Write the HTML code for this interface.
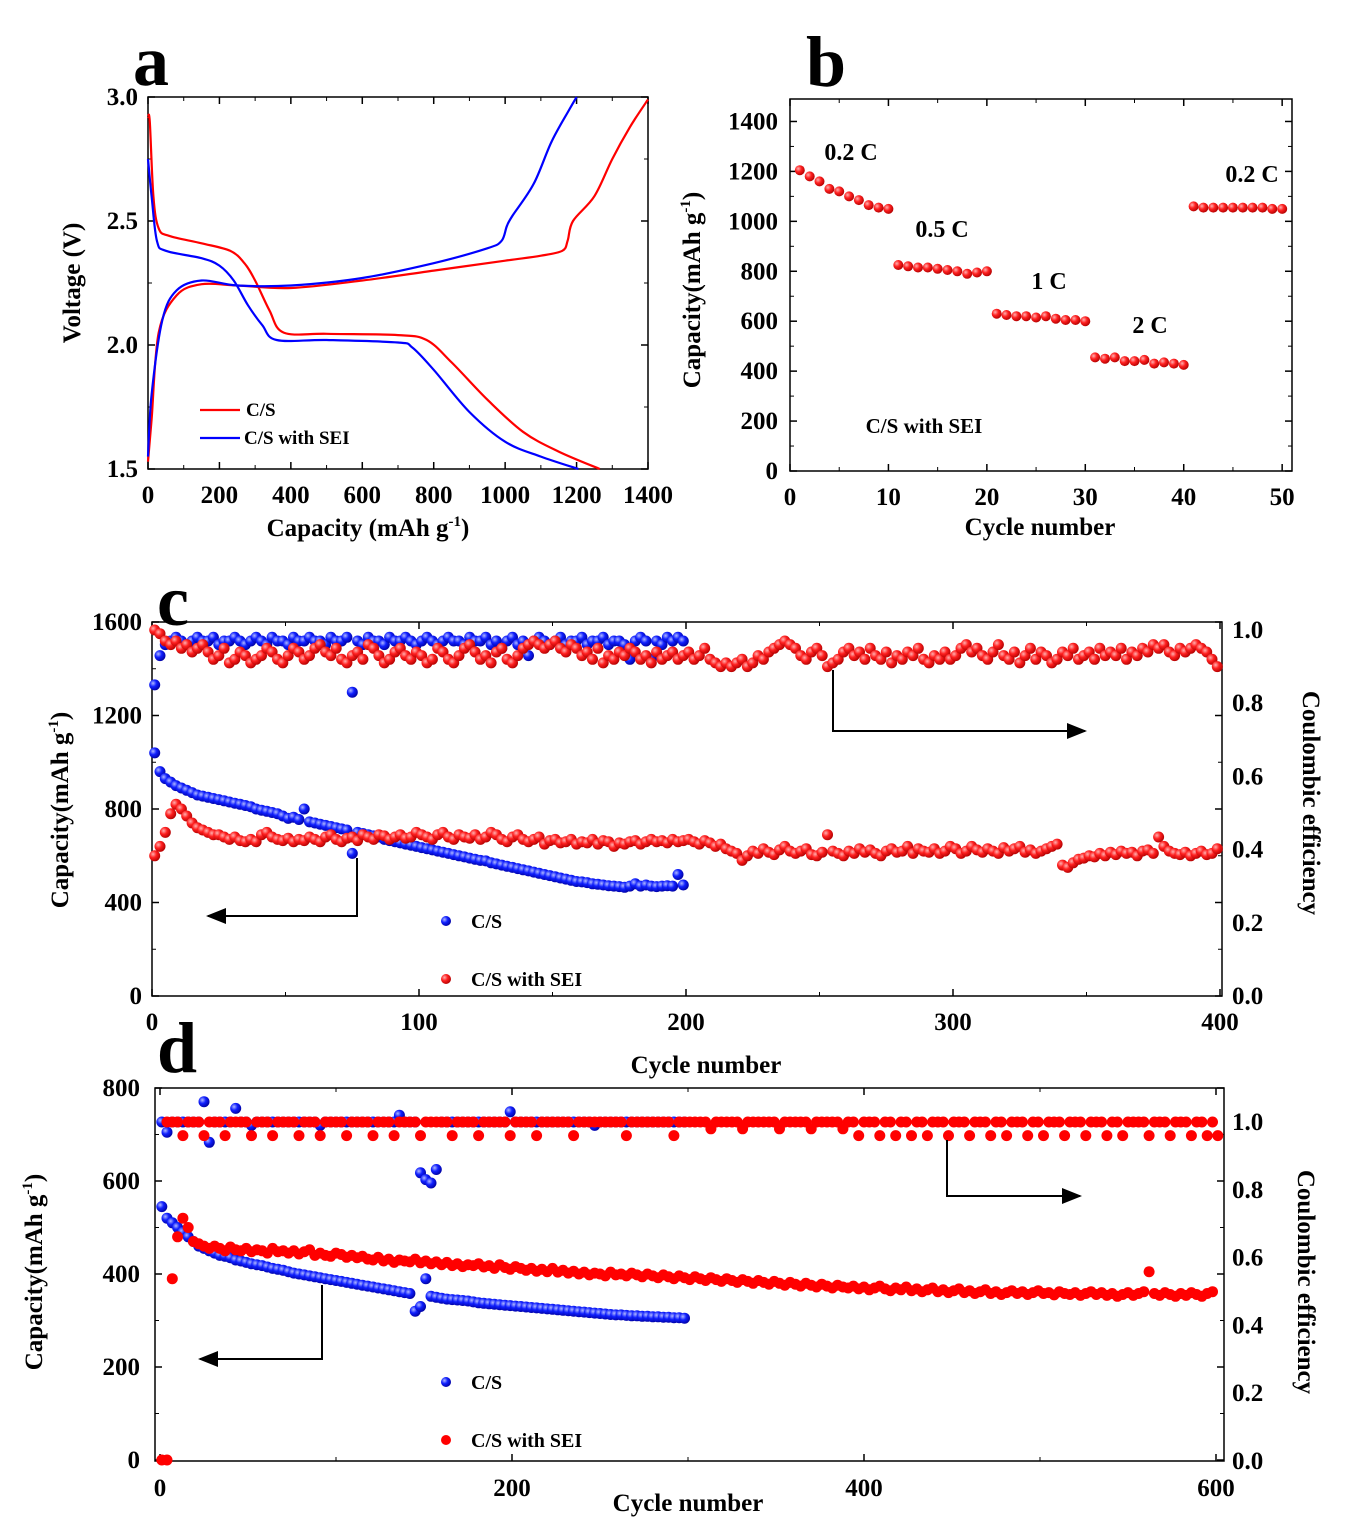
<!DOCTYPE html>
<html><head><meta charset="utf-8"><style>
html,body{margin:0;padding:0;background:#fff;}
svg{display:block;font-family:"Liberation Serif",serif;font-weight:bold;}
</style></head><body>
<svg id="fig" width="1345" height="1534" viewBox="0 0 1345 1534" xmlns="http://www.w3.org/2000/svg">
<defs>
<radialGradient id="gr" cx="0.35" cy="0.35" r="0.7"><stop offset="0" stop-color="#ffb0b0"/><stop offset="0.45" stop-color="#ff2020"/><stop offset="1" stop-color="#b00000"/></radialGradient>
<radialGradient id="gb" cx="0.35" cy="0.35" r="0.7"><stop offset="0" stop-color="#b0b8ff"/><stop offset="0.45" stop-color="#1020ff"/><stop offset="1" stop-color="#0000a0"/></radialGradient>
<marker id="ah" markerWidth="10" markerHeight="8" refX="9" refY="4" orient="auto"><path d="M0,0 L10,4 L0,8 Z" fill="#000"/></marker>
</defs>
<g id="root"></g>
</svg>
<script>
// ---------- Panel a data ----------
const aRedDisX=[0,5,15,30,60,150,230,270,300,340,380,500,700,780,850,950,1050,1150,1265];
const aRedDisY=[2.92,2.9,2.6,2.47,2.44,2.41,2.38,2.33,2.26,2.14,2.05,2.045,2.04,2.02,1.93,1.78,1.65,1.57,1.5];
const aRedChX=[0,10,30,80,150,250,400,600,800,1000,1100,1160,1175,1190,1250,1300,1350,1400];
const aRedChY=[1.53,1.7,2.05,2.2,2.245,2.24,2.23,2.26,2.3,2.34,2.36,2.38,2.42,2.5,2.6,2.75,2.88,2.99];
const aBlueDisX=[0,10,25,50,150,200,240,280,320,360,500,700,740,800,900,1000,1100,1205];
const aBlueDisY=[2.75,2.6,2.42,2.38,2.35,2.32,2.26,2.16,2.08,2.02,2.02,2.01,1.99,1.9,1.73,1.61,1.55,1.5];
const aBlueChX=[0,10,40,80,150,250,400,600,800,950,990,1005,1020,1080,1130,1180,1200];
const aBlueChY=[1.55,1.8,2.1,2.22,2.26,2.24,2.24,2.27,2.33,2.39,2.42,2.48,2.52,2.65,2.82,2.95,3.0];
const aXTicks=[0,200,400,600,800,1000,1200,1400];
const aYTicks=[1.5,2.0,2.5,3.0];
// ---------- Panel b data ----------
const bCap=[1205,1180,1160,1130,1120,1100,1085,1065,1055,1050,825,820,815,815,810,805,800,790,795,800,630,625,620,620,615,620,610,605,605,600,455,450,455,440,440,445,430,435,430,425,1060,1055,1055,1055,1055,1055,1055,1055,1050,1050];
const bXTicks=[0,10,20,30,40,50];
const bYTicks=[0,200,400,600,800,1000,1200,1400];
// ---------- Panel c data (every 2 cycles) ----------
const cSEICap=[600,640,700,780,820,800,770,740,720,710,
700,690,690,680,670,680,665,660,670,660,
690,700,680,670,665,675,660,670,665,680,
670,660,680,690,670,660,675,680,665,690,
680,670,690,685,670,680,690,675,680,700,
690,680,670,690,700,680,670,690,680,675,
690,670,680,700,690,670,660,680,690,670,
660,670,680,650,665,670,655,660,670,650,
660,655,670,650,665,660,640,655,650,660,
665,650,660,670,660,665,655,670,660,665,
670,660,650,665,655,640,650,630,620,610,
580,600,620,610,630,615,605,625,640,620,
610,620,630,605,600,615,690,620,610,600,
620,610,630,615,625,610,600,620,630,615,
620,640,610,630,620,615,630,610,620,640,
630,610,620,640,625,615,630,620,610,635,
620,630,640,615,625,610,620,630,640,650,
560,550,570,585,590,600,595,610,600,615,
605,620,610,615,600,620,625,610,680,640,
620,610,605,615,600,610,620,605,610,630];
const cSEIEff=[1.0,0.99,0.97,0.96,0.97,0.95,0.96,0.94,0.95,0.96,
0.94,0.92,0.93,0.95,0.91,0.92,0.94,0.93,0.91,0.92,
0.93,0.95,0.94,0.92,0.91,0.93,0.95,0.94,0.92,0.93,
0.95,0.96,0.94,0.93,0.95,0.92,0.91,0.93,0.94,0.92,
0.96,0.95,0.93,0.91,0.92,0.94,0.95,0.93,0.92,0.94,
0.93,0.91,0.92,0.95,0.94,0.92,0.91,0.93,0.95,0.96,
0.94,0.92,0.93,0.91,0.94,0.95,0.92,0.91,0.93,0.95,
0.96,0.97,0.96,0.95,0.96,0.97,0.95,0.94,0.96,0.95,
0.93,0.94,0.92,0.95,0.91,0.93,0.92,0.94,0.93,0.95,
0.94,0.92,0.93,0.91,0.94,0.92,0.93,0.94,0.92,0.93,
0.94,0.92,0.93,0.95,0.92,0.91,0.90,0.91,0.90,0.91,
0.92,0.90,0.91,0.93,0.92,0.94,0.95,0.96,0.97,0.96,
0.95,0.93,0.92,0.94,0.95,0.93,0.90,0.91,0.92,0.94,
0.95,0.93,0.94,0.92,0.95,0.93,0.92,0.94,0.91,0.93,
0.92,0.94,0.93,0.95,0.92,0.91,0.93,0.92,0.94,0.92,
0.93,0.95,0.96,0.94,0.95,0.93,0.92,0.94,0.96,0.93,
0.92,0.94,0.91,0.93,0.95,0.92,0.94,0.93,0.91,0.92,
0.94,0.93,0.95,0.92,0.93,0.94,0.92,0.95,0.93,0.94,
0.93,0.95,0.92,0.94,0.93,0.95,0.94,0.96,0.95,0.96,
0.94,0.93,0.95,0.94,0.95,0.96,0.95,0.94,0.92,0.90];
const cCSCap=[1040,960,930,915,900,890,880,870,860,855,
850,845,840,835,830,825,820,815,810,800,
795,790,785,780,770,760,765,755,800,745,
740,735,730,725,720,715,710,610,700,695,
690,685,680,670,665,660,655,650,645,640,
635,630,625,620,615,610,605,600,595,590,
585,580,578,570,565,560,555,550,545,540,
535,530,525,520,515,510,505,500,495,490,
488,485,480,478,475,472,470,468,465,470,
480,470,475,470,468,470,472,470,520,475];
const cCSEff=[0.85,0.93,0.96,0.97,0.98,0.97,0.96,0.97,0.98,0.97,
0.97,0.98,0.96,0.97,0.97,0.98,0.97,0.96,0.97,0.98,
0.97,0.96,0.98,0.97,0.97,0.96,0.98,0.97,0.97,0.98,
0.97,0.97,0.96,0.98,0.97,0.97,0.98,0.83,0.97,0.96,
0.98,0.97,0.97,0.96,0.98,0.97,0.97,0.98,0.97,0.96,
0.97,0.98,0.97,0.96,0.97,0.98,0.97,0.97,0.96,0.98,
0.97,0.97,0.98,0.96,0.97,0.95,0.97,0.98,0.96,0.97,
0.93,0.97,0.98,0.97,0.96,0.97,0.98,0.96,0.97,0.97,
0.98,0.96,0.97,0.97,0.98,0.96,0.97,0.97,0.96,0.92,
0.97,0.98,0.97,0.92,0.97,0.96,0.98,0.97,0.98,0.97];
const cXTicks=[0,100,200,300,400];
const cYTicks=[0,400,800,1200,1600];
const cRTicks=[0,0.2,0.4,0.6,0.8,1.0];
// ---------- Panel d data (every 3 cycles) ----------
const dSEICap=[0,0,390,480,520,500,470,465,460,455,
460,455,450,458,452,450,455,448,452,450,
445,455,448,450,445,450,443,448,452,440,
445,440,438,445,442,436,440,435,438,432,
430,436,428,432,425,430,428,426,432,424,
428,422,426,420,425,418,422,416,420,418,
422,415,418,412,420,414,410,416,412,408,
412,406,410,405,412,404,408,402,406,400,
404,398,402,400,396,404,398,400,396,402,
398,394,400,396,392,398,394,390,396,392,
388,394,390,386,392,388,384,390,386,382,
388,384,380,386,382,378,384,380,376,382,
378,374,380,376,372,378,374,370,376,372,
370,374,368,372,366,370,374,368,364,370,
366,372,364,368,362,366,370,362,366,360,
364,368,360,364,358,362,366,358,362,356,
360,364,358,362,356,360,364,358,360,355,
362,358,356,360,354,358,362,356,360,354,
358,352,356,360,354,358,362,405,358,354,
360,356,352,358,354,360,356,352,358,362];
const dSEIEff=[1.0,1.0,1.0,0.96,1.0,1.0,1.0,0.96,1.0,1.0,
1.0,0.96,1.0,1.0,1.0,1.0,0.96,1.0,1.0,1.0,
0.96,1.0,1.0,1.0,1.0,0.96,1.0,1.0,1.0,0.96,
1.0,1.0,1.0,1.0,0.96,1.0,1.0,1.0,1.0,0.96,
1.0,1.0,1.0,0.96,1.0,1.0,1.0,1.0,0.96,1.0,
1.0,1.0,1.0,1.0,0.96,1.0,1.0,1.0,1.0,0.96,
1.0,1.0,1.0,1.0,1.0,0.96,1.0,1.0,1.0,1.0,
0.96,1.0,1.0,1.0,1.0,1.0,1.0,0.96,1.0,1.0,
1.0,1.0,1.0,1.0,1.0,1.0,1.0,0.96,1.0,1.0,
1.0,1.0,1.0,1.0,1.0,1.0,0.96,1.0,1.0,1.0,
1.0,1.0,1.0,0.98,1.0,1.0,1.0,1.0,1.0,0.98,
1.0,1.0,1.0,1.0,1.0,1.0,0.98,1.0,1.0,1.0,
1.0,1.0,0.98,1.0,1.0,1.0,1.0,1.0,0.98,1.0,
1.0,0.96,1.0,1.0,1.0,0.96,1.0,1.0,0.96,1.0,
1.0,0.96,1.0,1.0,0.96,1.0,1.0,1.0,0.96,1.0,
1.0,1.0,0.96,1.0,1.0,1.0,0.96,1.0,1.0,0.96,
1.0,1.0,1.0,0.96,1.0,1.0,0.96,1.0,1.0,1.0,
0.96,1.0,1.0,1.0,0.96,1.0,1.0,1.0,0.96,1.0,
1.0,0.96,1.0,1.0,1.0,1.0,0.96,1.0,1.0,1.0,
0.96,1.0,1.0,1.0,0.96,1.0,1.0,0.96,1.0,0.96];
const dCSCap=[545,520,510,500,490,480,470,460,455,450,
445,440,438,435,430,428,425,422,420,418,
415,412,410,408,405,402,400,398,396,394,
392,390,388,386,384,382,380,378,376,374,
372,370,368,366,364,362,360,358,320,330,
390,352,350,348,346,345,344,343,342,340,
338,337,336,335,334,333,332,331,330,329,
328,327,326,325,324,323,322,321,320,319,
318,317,316,315,314,313,312,312,311,310,
310,309,309,308,308,307,307,306,306,305];
const dCSEff=[1.0,0.97,1.0,1.0,1.0,1.0,1.0,1.0,1.06,0.94,
1.0,1.0,1.0,1.0,1.04,1.0,1.0,0.99,1.0,1.0,
1.0,1.0,1.0,1.0,1.0,1.0,1.0,1.0,1.0,1.0,
0.99,1.0,1.0,1.0,1.0,1.0,1.0,1.0,1.0,1.0,
1.0,1.0,1.0,1.0,1.0,1.02,1.0,1.0,1.0,0.85,
0.83,0.82,0.86,1.0,1.0,1.0,1.0,1.0,1.0,1.0,
1.0,1.0,1.0,1.0,1.0,1.0,1.03,1.0,1.0,1.0,
1.0,1.0,1.0,1.0,1.0,1.0,1.0,1.0,1.0,1.0,
1.0,1.0,0.99,1.0,1.0,1.0,1.0,1.0,1.0,1.0,
1.0,1.0,1.0,1.0,1.0,1.0,1.0,1.0,1.0,1.0];
const dXTicks=[0,200,400,600];
const dYTicks=[0,200,400,600,800];
const dRTicks=[0,0.2,0.4,0.6,0.8,1.0];

const NS="http://www.w3.org/2000/svg";
const root=document.getElementById('root');
function mk(tag,attrs,parent){const e=document.createElementNS(NS,tag);for(const k in attrs)e.setAttribute(k,attrs[k]);(parent||root).appendChild(e);return e;}
function lin(d0,d1,r0,r1){return v=>r0+(v-d0)/(d1-d0)*(r1-r0);}
function txt(x,y,s,size,anchor,parent){const t=mk('text',{x:x,y:y,'font-size':size,'text-anchor':anchor||'middle'},parent);t.textContent=s;return t;}
function seq(n,start,step){const a=[];for(let i=0;i<n;i++)a.push(start+i*step);return a;}

function frame(g,x0,y0,x1,y1){
  const r=mk('rect',{x:x0,y:y0,width:x1-x0,height:y1-y0,fill:'none',stroke:'#000','stroke-width':1.5},g);
  
  
}
function xAxis(g,sx,ticks,yb,yt,labY,size){
  ticks.forEach((v,i)=>{
    const x=sx(v);
    mk('line',{x1:x,y1:yb,x2:x,y2:yb-7,stroke:'#000','stroke-width':1.5},g);
    mk('line',{x1:x,y1:yt,x2:x,y2:yt+7,stroke:'#000','stroke-width':1.5},g);
    if(i<ticks.length-1){const xm=sx((v+ticks[i+1])/2);mk('line',{x1:xm,y1:yb,x2:xm,y2:yb-4,stroke:'#000'},g);mk('line',{x1:xm,y1:yt,x2:xm,y2:yt+4,stroke:'#000'},g);}
    const t=txt(x,labY,String(v),size,'middle',g);
    
    
  });
}
function yAxis(g,sy,ticks,xl,xr,labX,size,fmt){
  ticks.forEach((v,i)=>{
    const y=sy(v);
    mk('line',{x1:xl,y1:y,x2:xl+7,y2:y,stroke:'#000','stroke-width':1.5},g);
    mk('line',{x1:xr,y1:y,x2:xr-7,y2:y,stroke:'#000','stroke-width':1.5},g);
    if(i<ticks.length-1){const ym=sy((v+ticks[i+1])/2);mk('line',{x1:xl,y1:ym,x2:xl+4,y2:ym,stroke:'#000'},g);mk('line',{x1:xr,y1:ym,x2:xr-4,y2:ym,stroke:'#000'},g);}
    const t=txt(labX,y+8,fmt?fmt(v):String(v),size,'end',g);
    
    
  });
}
function curve(g,xs,ys,sx,sy,color,name){
  const P=xs.map((v,i)=>[sx(v),sy(ys[i])]);
  let d='M'+P[0][0].toFixed(1)+','+P[0][1].toFixed(1);
  for(let i=0;i<P.length-1;i++){
    const p0=P[Math.max(0,i-1)],p1=P[i],p2=P[i+1],p3=P[Math.min(P.length-1,i+2)];
    const c1=[p1[0]+(p2[0]-p0[0])/6,p1[1]+(p2[1]-p0[1])/6];
    const c2=[p2[0]-(p3[0]-p1[0])/6,p2[1]-(p3[1]-p1[1])/6];
    d+=' C'+c1[0].toFixed(1)+','+c1[1].toFixed(1)+' '+c2[0].toFixed(1)+','+c2[1].toFixed(1)+' '+p2[0].toFixed(1)+','+p2[1].toFixed(1);
  }
  const p=mk('path',{d:d,fill:'none',stroke:color,'stroke-width':2.2},g);
  
  
}
function dots(g,xs,ys,sx,sy,fill,r,name){
  ys.forEach((v,i)=>{
    const c=mk('circle',{cx:sx(xs[i]).toFixed(1),cy:sy(v).toFixed(1),r:r,fill:fill},g);
    
    
  });
}
function supTitle(g,x,y,pre,post,size,rot){
  const t=mk('text',{x:x,y:y,'font-size':size,'text-anchor':'middle'},g);
  if(rot)t.setAttribute('transform','rotate('+rot+' '+x+' '+y+')');
  t.appendChild(document.createTextNode(pre));
  const s=mk('tspan',{'font-size':size*0.6,dy:-size*0.4},t);s.textContent='-1';
  const s2=mk('tspan',{dy:size*0.4},t);s2.textContent=post;
  return t;
}
function arrow(g,pts,name){
  const p=mk('polyline',{points:pts.map(p=>p.join(',')).join(' '),fill:'none',stroke:'#000','stroke-width':2,'marker-end':'url(#ah)'},g);
  
  
}
function panelLabel(x,y,s){const t=txt(x,y,s,72,'start');}
function rightTicks(g,sr,ticks,x){ticks.forEach(v=>{const t=txt(x,sr(v)+8,v.toFixed(1),25,'start',g);});}

// ===== Panel a =====
(function(){
  const g=mk('g',{});
  const sx=lin(0,1400,148,648), sy=lin(1.5,3.0,469,97);
  frame(g,148,97,648,469);
  xAxis(g,sx,aXTicks,469,97,503,25);
  yAxis(g,sy,aYTicks,148,648,138,25,v=>v.toFixed(1));
  curve(g,aRedDisX,aRedDisY,sx,sy,'#f00','cs-discharge-curve');
  curve(g,aRedChX,aRedChY,sx,sy,'#f00','cs-charge-curve');
  curve(g,aBlueDisX,aBlueDisY,sx,sy,'#00f','cs-sei-discharge-curve');
  curve(g,aBlueChX,aBlueChY,sx,sy,'#00f','cs-sei-charge-curve');
  const t1=supTitle(g,368,536,'Capacity (mAh g',')',25);
  const t2=txt(80,283,'Voltage (V)',25,'middle',g);t2.setAttribute('transform','rotate(-90 80 283)');
  const l1=mk('line',{x1:200,y1:410,x2:240,y2:410,stroke:'#f00','stroke-width':2.2},g);
  const lt1=txt(246,416,'C/S',19,'start',g);
  const l2=mk('line',{x1:200,y1:438,x2:240,y2:438,stroke:'#00f','stroke-width':2.2},g);
  const lt2=txt(244,444,'C/S with SEI',19,'start',g);
})();
panelLabel(133,85,'a');

// ===== Panel b =====
(function(){
  const g=mk('g',{});
  const sx=lin(0,51,790,1292), sy=lin(0,1490,471,99);
  frame(g,790,99,1292,471);
  xAxis(g,sx,bXTicks,471,99,505,25);
  yAxis(g,sy,bYTicks,790,1292,778,25);
  dots(g,seq(50,1,1),bCap,sx,sy,'url(#gr)',5,'rate-capacity-point');
  [['0.2 C',851,160],['0.5 C',942,237],['1 C',1049,289],['2 C',1150,333],['0.2 C',1252,182]].forEach(a=>{const t=txt(a[1],a[2],a[0],24,'middle',g);});
  const n=txt(924,433,'C/S with SEI',21,'middle',g);
  const xt=txt(1040,535,'Cycle number',25,'middle',g);
  const yt=supTitle(g,700,290,'Capacity(mAh g',')',25,-90);
})();
panelLabel(806,86,'b');

// ===== Panel c =====
(function(){
  const g=mk('g',{});
  const sx=lin(0,400,152,1220), sy=lin(0,1600,996,622), sr=lin(0,1.0,996,630);
  frame(g,152,622,1222,996);
  xAxis(g,sx,cXTicks,996,622,1030,25);
  yAxis(g,sy,cYTicks,152,1222,142,25);
  rightTicks(g,sr,cRTicks,1232);
  dots(g,seq(100,1,2),cCSEff,sx,sr,'url(#gb)',5.5,'cs-efficiency-point');
  dots(g,seq(200,1,2),cSEIEff,sx,sr,'url(#gr)',5.5,'sei-efficiency-point');
  dots(g,seq(100,1,2),cCSCap,sx,sy,'url(#gb)',5.5,'cs-capacity-point');
  dots(g,seq(200,1,2),cSEICap,sx,sy,'url(#gr)',5.5,'sei-capacity-point');
  arrow(g,[[833,670],[833,731],[1085,731]],'arrow-to-right-axis');
  arrow(g,[[357,858],[357,916],[208,916]],'arrow-to-left-axis');
  const d1=mk('circle',{cx:446,cy:921,r:5,fill:'url(#gb)'},g);
  const e1=txt(471,928,'C/S',20,'start',g);
  const d2=mk('circle',{cx:446,cy:979,r:5,fill:'url(#gr)'},g);
  const e2=txt(471,986,'C/S with SEI',20,'start',g);
  const xt=txt(706,1073,'Cycle number',25,'middle',g);
  const yt=supTitle(g,68,810,'Capacity(mAh g',')',25,-90);
  const rt=txt(1303,803,'Coulombic efficiency',25,'middle',g);rt.setAttribute('transform','rotate(90 1303 803)');
})();
panelLabel(157,625,'c');

// ===== Panel d =====
(function(){
  const g=mk('g',{});
  const sx=lin(0,600,160,1216), sy=lin(0,800,1460,1088), sr=lin(0,1.0,1461,1122);
  frame(g,155,1088,1224,1461);
  xAxis(g,sx,dXTicks,1461,1088,1496,25);
  yAxis(g,sy,dYTicks,155,1224,140,25);
  rightTicks(g,sr,dRTicks,1232);
  dots(g,seq(100,1,3),dCSEff,sx,sr,'url(#gb)',5.5,'cs-efficiency-point');
  dots(g,seq(200,4,3),dSEIEff,sx,sr,'#f00',5.5,'sei-efficiency-point');
  dots(g,seq(100,1,3),dCSCap,sx,sy,'url(#gb)',5.5,'cs-capacity-point');
  dots(g,seq(200,1,3),dSEICap,sx,sy,'#f00',5.5,'sei-capacity-point');
  arrow(g,[[947,1140],[947,1196],[1080,1196]],'arrow-to-right-axis');
  arrow(g,[[322,1285],[322,1359],[200,1359]],'arrow-to-left-axis');
  const d1=mk('circle',{cx:446,cy:1382,r:5,fill:'url(#gb)'},g);
  const e1=txt(471,1389,'C/S',20,'start',g);
  const d2=mk('circle',{cx:446,cy:1440,r:5,fill:'#f00'},g);
  const e2=txt(471,1447,'C/S with SEI',20,'start',g);
  const xt=txt(688,1511,'Cycle number',25,'middle',g);
  const yt=supTitle(g,42,1272,'Capacity(mAh g',')',25,-90);
  const rt=txt(1298,1282,'Coulombic efficiency',25,'middle',g);rt.setAttribute('transform','rotate(90 1298 1282)');
})();
panelLabel(157,1072,'d');
</script>
</body></html>
